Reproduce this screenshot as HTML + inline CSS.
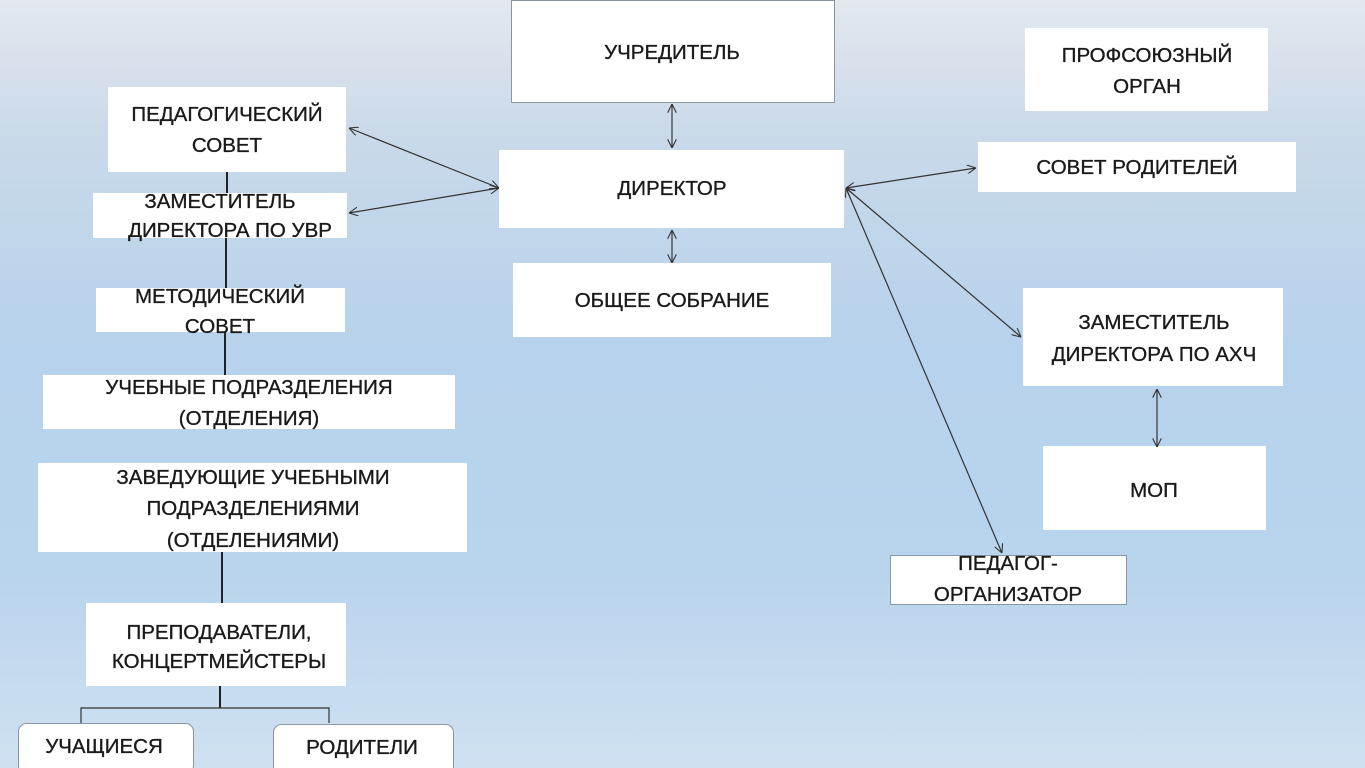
<!DOCTYPE html>
<html><head><meta charset="utf-8"><style>
html,body{margin:0;padding:0;width:1365px;height:768px;overflow:hidden}
body{background:linear-gradient(to bottom,#e3e8ee 0%,#c9d9e9 18%,#b7d2ec 45%,#b9d4ed 75%,#cfe1f1 100%)}
svg{position:absolute;left:0;top:0}
text{font-family:"Liberation Sans",sans-serif;font-size:20.5px;fill:#1a1a1a;stroke:#1a1a1a;stroke-width:0.35;text-anchor:middle}
</style></head><body>
<svg width="1365" height="768" viewBox="0 0 1365 768">
<defs><marker id="a" viewBox="0 0 10 10" refX="10" refY="5" markerWidth="9" markerHeight="9" orient="auto-start-reverse" markerUnits="userSpaceOnUse"><path d="M0,0 L10,5 L0,10" fill="none" stroke="#333" stroke-width="1.2"/></marker></defs>
<g fill="#fff">
<rect x="511.5" y="0.5" width="323" height="102" stroke="#8a96a4"/>
<rect x="1025" y="28" width="243" height="83"/>
<rect x="108" y="87" width="238" height="85"/>
<rect x="499" y="150" width="345" height="78"/>
<rect x="978" y="142" width="318" height="50"/>
<rect x="93" y="193" width="254" height="45"/>
<rect x="513" y="263" width="318" height="74"/>
<rect x="96" y="288" width="249" height="44"/>
<rect x="43" y="375" width="412" height="54"/>
<rect x="38" y="463" width="429" height="89"/>
<rect x="1023" y="288" width="260" height="98"/>
<rect x="1043" y="446" width="223" height="84"/>
<rect x="890.5" y="555.5" width="236" height="49" stroke="#8a96a4"/>
<rect x="86" y="603" width="260" height="83"/>
<rect x="18.5" y="723.5" width="175" height="50" rx="8" stroke="#8a96a4"/>
<rect x="273.5" y="724.5" width="180" height="50" rx="8" stroke="#8a96a4"/>
</g>
<g stroke="#222" stroke-width="2" fill="none">
<path d="M227 172V193M226 238V288M225 332V375M222 552V603M220 686V708"/>
</g>
<path d="M81 723V708H329V723" stroke="#333" stroke-width="1.2" fill="none"/>
<g stroke="#333" stroke-width="1.2" marker-start="url(#a)" marker-end="url(#a)">
<line x1="349" y1="128" x2="499" y2="188"/>
<line x1="349" y1="213" x2="499" y2="188"/>
<line x1="672" y1="104" x2="672" y2="148"/>
<line x1="672" y1="230" x2="672" y2="263"/>
<line x1="846" y1="188" x2="976" y2="168"/>
<line x1="846" y1="188" x2="1021" y2="337"/>
<line x1="846" y1="188" x2="1002" y2="553"/>
<line x1="1157" y1="389" x2="1157" y2="447"/>
</g>
<text x="672" y="59">УЧРЕДИТЕЛЬ</text>
<text x="1147" y="62">ПРОФСОЮЗНЫЙ</text><text x="1147" y="93">ОРГАН</text>
<text x="227" y="121">ПЕДАГОГИЧЕСКИЙ</text><text x="227" y="152">СОВЕТ</text>
<text x="672" y="195">ДИРЕКТОР</text>
<text x="1137" y="174">СОВЕТ РОДИТЕЛЕЙ</text>
<text x="220" y="208">ЗАМЕСТИТЕЛЬ</text><text x="230" y="237">ДИРЕКТОРА ПО УВР</text>
<text x="672" y="307">ОБЩЕЕ СОБРАНИЕ</text>
<text x="220" y="303">МЕТОДИЧЕСКИЙ</text><text x="220" y="333">СОВЕТ</text>
<text x="249" y="394">УЧЕБНЫЕ ПОДРАЗДЕЛЕНИЯ</text><text x="249" y="425">(ОТДЕЛЕНИЯ)</text>
<text x="253" y="484">ЗАВЕДУЮЩИЕ УЧЕБНЫМИ</text><text x="253" y="515">ПОДРАЗДЕЛЕНИЯМИ</text><text x="253" y="547">(ОТДЕЛЕНИЯМИ)</text>
<text x="1154" y="329">ЗАМЕСТИТЕЛЬ</text><text x="1154" y="361">ДИРЕКТОРА ПО АХЧ</text>
<text x="1154" y="497">МОП</text>
<text x="1008" y="570">ПЕДАГОГ-</text><text x="1008" y="601">ОРГАНИЗАТОР</text>
<text x="219" y="639">ПРЕПОДАВАТЕЛИ,</text><text x="219" y="668">КОНЦЕРТМЕЙСТЕРЫ</text>
<text x="104" y="753">УЧАЩИЕСЯ</text>
<text x="362" y="754">РОДИТЕЛИ</text>
</svg>
</body></html>
